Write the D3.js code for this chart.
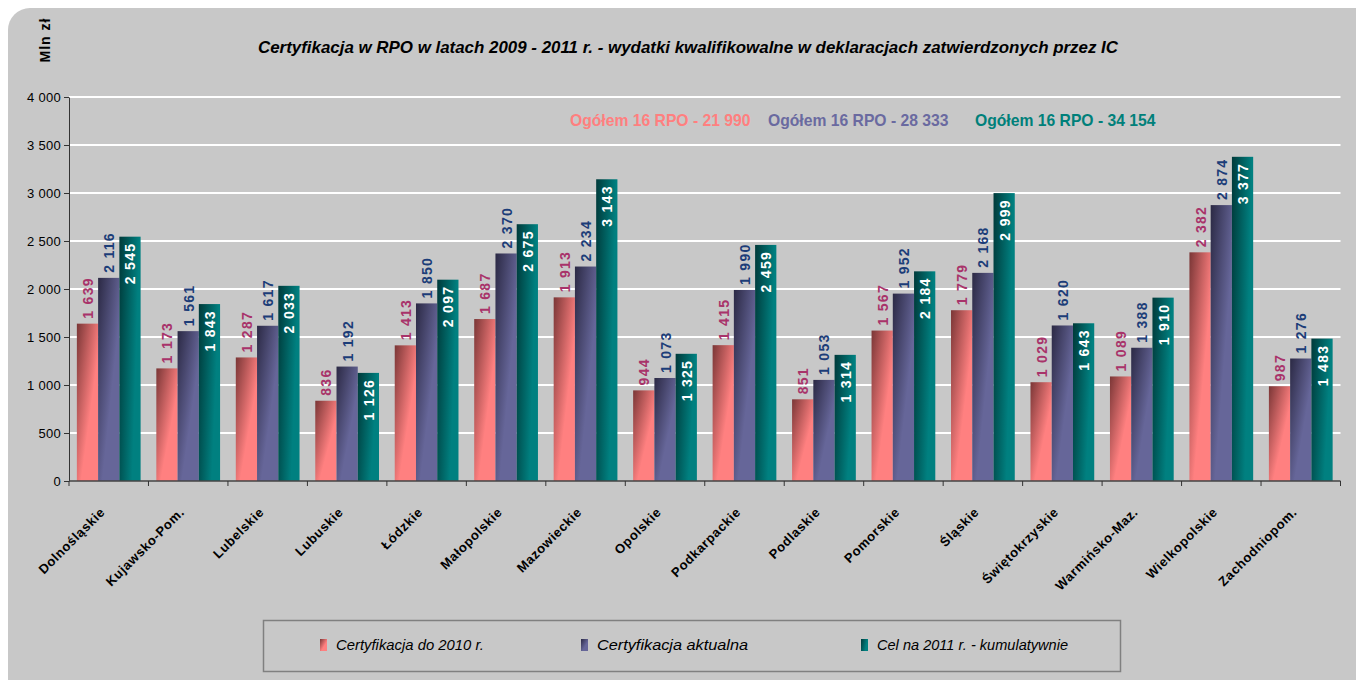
<!DOCTYPE html>
<html>
<head>
<meta charset="utf-8">
<script src="https://cdn.jsdelivr.net/npm/d3@7"></script>
<style>
  body { margin: 0; background: #fff; }
  svg { display: block; font-family: Arial, "Liberation Sans", sans-serif; }
</style>
</head>
<body>
<svg id="chart" width="1356" height="680"></svg>
<script>
// regions (voivodeships)
const regions = ["Dolnośląskie", "Kujawsko-Pom.", "Lubelskie", "Lubuskie", "Łódzkie", "Małopolskie",
  "Mazowieckie", "Opolskie", "Podkarpackie", "Podlaskie", "Pomorskie", "Śląskie",
  "Świętokrzyskie", "Warmińsko-Maz.", "Wielkopolskie", "Zachodniopom."];

const cert2010 = [1639, 1173, 1287, 836, 1413, 1687, 1913, 944, 1415, 851, 1567, 1779, 1029, 1089, 2382, 987];
const certNow  = [2116, 1561, 1617, 1192, 1850, 2370, 2234, 1073, 1990, 1053, 1952, 2168, 1620, 1388, 2874, 1276];
const target11 = [2545, 1843, 2033, 1126, 2097, 2675, 3143, 1325, 2459, 1314, 2184, 2999, 1643, 1910, 3377, 1483];

const seriesNames = ["Certyfikacja do 2010 r.", "Certyfikacja aktualna", "Cel na 2011 r. - kumulatywnie"];
const totals = [21990, 28333, 34154];
const yTicks = [0, 500, 1000, 1500, 2000, 2500, 3000, 3500, 4000];

const title = "Certyfikacja w RPO w latach 2009 - 2011 r. - wydatki kwalifikowalne w deklaracjach zatwierdzonych przez IC";

// colours: [dark, light, value label]
const palette = [
  { dark: "#7a3636", light: "#ff8080", label: "#a8336a" },
  { dark: "#2b2944", light: "#666699", label: "#1c3d78" },
  { dark: "#003a3a", light: "#008080", label: "#ffffff" }
];

const locale = d3.formatLocale({ decimal: ",", thousands: " ", grouping: [3], currency: ["", ""] });
const fmt = locale.format(",d");

const svg = d3.select("#chart");
const margin = { left: 69, right: 15, top: 97, bottom: 199 };
const W = 1356, H = 680;

// background panel
svg.append("rect")
  .attr("x", 8).attr("y", 8)
  .attr("width", W + 40).attr("height", H + 40)
  .attr("rx", 22).attr("ry", 22)
  .attr("fill", "#c8c8c8");

// gradients
const defs = svg.append("defs");
palette.forEach((p, i) => {
  const g = defs.append("linearGradient")
    .attr("id", "grad" + i)
    .attr("x1", 0).attr("y1", 0)
    .attr("x2", 1).attr("y2", i == 2 ? 0.35 : 1);
  if (i == 2) {
    g.append("stop").attr("offset", 0).attr("stop-color", p.dark);
    g.append("stop").attr("offset", 0.85).attr("stop-color", p.light);
  } else {
    g.append("stop").attr("offset", 0).attr("stop-color", p.dark);
    g.append("stop").attr("offset", 0.6).attr("stop-color", p.light);
    g.append("stop").attr("offset", 1).attr("stop-color", p.light);
  }
});

const x0 = d3.scaleBand()
  .domain(regions)
  .range([margin.left, W - margin.right - 0.5])
  .paddingInner(0).paddingOuter(0);

const x1 = d3.scaleBand()
  .domain([0, 1, 2])
  .range([0, x0.bandwidth()])
  .paddingInner(0).paddingOuter(0.37);

const y = d3.scaleLinear()
  .domain([0, 4000])
  .range([H - margin.bottom, margin.top]);

// gridlines
svg.append("g")
  .selectAll("line")
  .data(yTicks.filter(d => d > 0))
  .join("line")
  .attr("x1", margin.left).attr("x2", x0.range()[1])
  .attr("y1", d => y(d)).attr("y2", d => y(d))
  .attr("stroke", "#fff").attr("stroke-width", 2);

// y axis
const yAxis = svg.append("g")
  .attr("transform", `translate(${margin.left},0)`)
  .call(d3.axisLeft(y).tickValues(yTicks).tickFormat(fmt).tickSize(5).tickSizeOuter(0));
yAxis.select(".domain").attr("stroke", "#333");
yAxis.selectAll(".tick line").attr("stroke", "#333");
yAxis.selectAll("text")
  .attr("font-size", 13).attr("letter-spacing", 0.3).attr("fill", "#000").attr("x", -8);

// bars
const series = [cert2010, certNow, target11];
const groups = svg.append("g")
  .selectAll("g")
  .data(regions)
  .join("g")
  .attr("transform", d => `translate(${x0(d)},0)`);

groups.selectAll("rect")
  .data((d, i) => series.map((s, k) => ({ k, v: s[i] })))
  .join("rect")
  .attr("x", d => x1(d.k))
  .attr("width", x1.bandwidth())
  .attr("y", d => y(d.v))
  .attr("height", d => y(0) - y(d.v))
  .attr("fill", d => `url(#grad${d.k})`);

// value labels
groups.selectAll("text.val")
  .data((d, i) => series.map((s, k) => ({ k, v: s[i] })))
  .join("text")
  .attr("class", "val")
  .attr("transform", d => {
    const cx = x1(d.k) + x1.bandwidth() / 2 + 5.5;
    const ty = d.k == 2 ? y(d.v) + 6 : y(d.v) - 5;
    return `translate(${cx},${ty}) rotate(-90)`;
  })
  .attr("text-anchor", d => d.k == 2 ? "end" : "start")
  .attr("font-size", 14)
  .attr("font-weight", "bold")
  .attr("letter-spacing", 1.3)
  .attr("fill", d => palette[d.k].label)
  .text(d => fmt(d.v));

// x axis
const xAxisY = y(0);
svg.append("line")
  .attr("x1", margin.left).attr("x2", x0.range()[1])
  .attr("y1", xAxisY).attr("y2", xAxisY)
  .attr("stroke", "#444").attr("stroke-width", 1.5);
svg.append("g")
  .selectAll("line")
  .data(regions.map((r, i) => i).concat([regions.length]))
  .join("line")
  .attr("x1", i => margin.left + i * x0.step())
  .attr("x2", i => margin.left + i * x0.step())
  .attr("y1", xAxisY).attr("y2", xAxisY + 5)
  .attr("stroke", "#333");

svg.append("g")
  .selectAll("text")
  .data(regions)
  .join("text")
  .attr("transform", d => `translate(${x0(d) + x0.bandwidth() / 2 - 3},${xAxisY + 32}) rotate(-45)`)
  .attr("text-anchor", "end")
  .attr("font-size", 13)
  .attr("font-weight", "bold")
  .attr("letter-spacing", 0.6)
  .attr("fill", "#000")
  .text(d => d);

// title
svg.append("text")
  .attr("x", 258).attr("y", 53)
  .attr("font-size", 17)
  .attr("font-weight", "bold")
  .attr("font-style", "italic")
  .attr("textLength", 860)
  .attr("lengthAdjust", "spacingAndGlyphs")
  .attr("fill", "#000")
  .text(title);

// unit label
svg.append("text")
  .attr("transform", "translate(50,40) rotate(-90)")
  .attr("text-anchor", "middle")
  .attr("font-size", 14)
  .attr("font-weight", "bold")
  .attr("letter-spacing", 1)
  .attr("fill", "#000")
  .text("Mln zł");

// totals
const totalColors = ["#ff7f7f", "#6a6aa0", "#00807a"];
const totalX = [570, 768, 975];
svg.append("g")
  .selectAll("text")
  .data(totals)
  .join("text")
  .attr("x", (d, i) => totalX[i])
  .attr("y", 126)
  .attr("font-size", 15.7)
  .attr("font-weight", "bold")
  .attr("fill", (d, i) => totalColors[i])
  .text(d => "Ogółem 16 RPO - " + fmt(d));

// legend
svg.append("rect")
  .attr("x", 263.5).attr("y", 620.5)
  .attr("width", 857).attr("height", 51)
  .attr("fill", "none")
  .attr("stroke", "#808080").attr("stroke-width", 1.5);

const legendX = [320, 581, 861];
const legendW = [148, 151, 191];
const leg = svg.append("g")
  .selectAll("g")
  .data(seriesNames)
  .join("g")
  .attr("transform", (d, i) => `translate(${legendX[i]},639)`);
leg.append("rect")
  .attr("width", 7).attr("height", 12)
  .attr("fill", (d, i) => `url(#grad${i})`);
leg.append("text")
  .attr("x", 16).attr("y", 11)
  .attr("font-size", 14.5)
  .attr("font-style", "italic")
  .attr("textLength", (d, i) => legendW[i])
  .attr("lengthAdjust", "spacingAndGlyphs")
  .attr("fill", "#000")
  .text(d => d);
</script>
</body>
</html>
